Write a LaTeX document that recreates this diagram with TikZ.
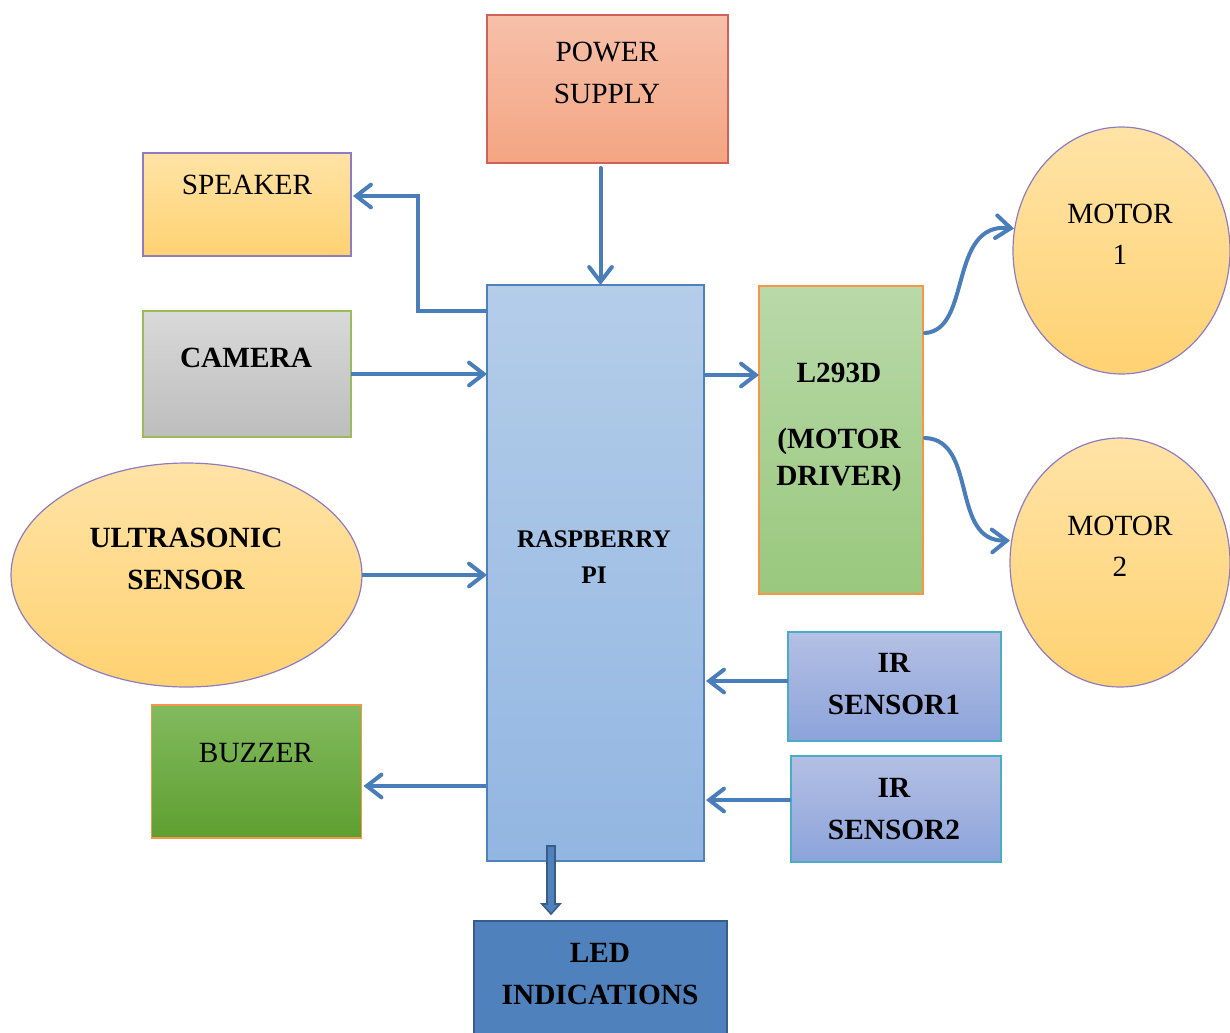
\documentclass[tikz,border=0pt]{standalone}
\usepackage{fontspec}
\setmainfont{Liberation Serif}
\usetikzlibrary{arrows.meta,shapes.geometric,calc}
\definecolor{arrc}{HTML}{4A7EBB}
\definecolor{psTop}{HTML}{F6C0AA}\definecolor{psBot}{HTML}{F4A582}\definecolor{psLine}{HTML}{D0605A}
\definecolor{yTop}{HTML}{FFE3A6}\definecolor{yBot}{HTML}{FFD272}\definecolor{purp}{HTML}{8E7CC3}
\definecolor{gTop}{HTML}{D9D9D9}\definecolor{gBot}{HTML}{BDBDBD}\definecolor{gLine}{HTML}{9BBB59}
\definecolor{bzTop}{HTML}{82BA5E}\definecolor{bzBot}{HTML}{5E9F30}\definecolor{orLine}{HTML}{F79646}
\definecolor{rpTop}{HTML}{B4CDE9}\definecolor{rpBot}{HTML}{92B6E2}\definecolor{rpLine}{HTML}{4F81BD}
\definecolor{lTop}{HTML}{B9D9A9}\definecolor{lBot}{HTML}{99C87D}
\definecolor{irTop}{HTML}{B4C0E4}\definecolor{irBot}{HTML}{8CA3DA}\definecolor{irLine}{HTML}{4BACC6}
\definecolor{ledFill}{HTML}{4F81BD}\definecolor{ledLine}{HTML}{385D8A}
\tikzset{
  box/.style={draw, line width=1.1pt, inner sep=0pt, outer sep=0pt},
  oval/.style={ellipse, draw, line width=0.9pt, inner sep=0pt, outer sep=0pt},
  arr/.style={draw=arrc, line width=3pt, line cap=round, line join=miter,
    -{Straight Barb[length=11pt,width=17pt,line cap=round]}},
  txt/.style={align=center, font=\fontsize{22}{31}\selectfont, inner sep=0pt},
  btxt/.style={align=center, font=\fontsize{22}{31}\selectfont\bfseries, inner sep=0pt},
}
\begin{document}
\begin{tikzpicture}[x=0.75pt,y=-0.75pt]
\useasboundingbox (0,0) rectangle (1230,1032);
% boxes
\node[box, draw=psLine, top color=psTop, bottom color=psBot, minimum width=241*0.75pt, minimum height=148*0.75pt] (ps) at (607.5,89) {};
\node[box, draw=purp, top color=yTop, bottom color=yBot, minimum width=208*0.75pt, minimum height=103*0.75pt] (spk) at (247,204.5) {};
\node[box, draw=gLine, top color=gTop, bottom color=gBot, minimum width=208*0.75pt, minimum height=126*0.75pt] (cam) at (247,374) {};
\node[oval, draw=purp, top color=yTop, bottom color=yBot, minimum width=351*0.75pt, minimum height=224*0.75pt] (us) at (186.5,575) {};
\node[box, draw=orLine, top color=bzTop, bottom color=bzBot, minimum width=210*0.75pt, minimum height=133*0.75pt] (bz) at (256.5,771.5) {};
\node[box, draw=rpLine, top color=rpTop, bottom color=rpBot, minimum width=217*0.75pt, minimum height=576*0.75pt] (rpi) at (595.5,573) {};
\node[box, draw=orLine, top color=lTop, bottom color=lBot, minimum width=164*0.75pt, minimum height=308*0.75pt] (l293) at (841,440) {};
\node[oval, draw=purp, top color=yTop, bottom color=yBot, minimum width=217*0.75pt, minimum height=247*0.75pt] (m1) at (1121.5,250.5) {};
\node[oval, draw=purp, top color=yTop, bottom color=yBot, minimum width=220*0.75pt, minimum height=249*0.75pt] (m2) at (1120,562.5) {};
\node[box, draw=irLine, top color=irTop, bottom color=irBot, minimum width=213*0.75pt, minimum height=109*0.75pt] (ir1) at (894.5,686.5) {};
\node[box, draw=irLine, top color=irTop, bottom color=irBot, minimum width=210*0.75pt, minimum height=106*0.75pt] (ir2) at (896,809) {};
\node[box, draw=ledLine, fill=ledFill, line width=2pt, minimum width=253*0.75pt, minimum height=130*0.75pt] (led) at (600.5,986) {};
% labels
\node[txt] (psT) at (607,73) {POWER\\SUPPLY};
\node[txt] (spkT) at (247,185) {SPEAKER};
\node[btxt] (camT) at (246,358) {CAMERA};
\node[btxt] (usT) at (186,559) {ULTRASONIC\\SENSOR};
\node[txt] (bzT) at (256,753) {BUZZER};
\node[align=center, font=\fontsize{19}{27}\selectfont\bfseries, inner sep=0pt] (rpiT) at (594,557) {RASPBERRY\\PI};
\node[btxt] (lT1) at (839,373) {L293D};
\node[align=center, font=\fontsize{22}{28}\selectfont\bfseries, inner sep=0pt] (lT2) at (839,460) {(MOTOR\\DRIVER)};
\node[txt] (m1T) at (1120,234) {MOTOR\\1};
\node[txt] (m2T) at (1120,546) {MOTOR\\2};
\node[btxt] (ir1T) at (894,684) {IR\\SENSOR1};
\node[btxt] (ir2T) at (894,809) {IR\\SENSOR2};
\node[btxt] (ledT) at (600,974) {LED\\INDICATIONS};
% connectors
\coordinate (psOut) at ($(ps.south)+(-7,5)$);
\draw[arr] (psOut) -- (psOut |- rpi.north);
\draw[arr, line cap=butt] ($(rpi.north west)+(0,26)$) -- ++(-69,0) |- ($(spk.north east)+(2,43)$);
\draw[arr, line cap=butt] (cam.east) -- (cam.east -| rpi.west);
\draw[arr, line cap=butt] (us.east) -- (us.east -| rpi.west);
\coordinate (bzY) at (0,786);
\draw[arr, line cap=butt] (rpi.west |- bzY) -- ($(bz.east |- bzY)+(2,0)$);
\coordinate (lY) at (0,375);
\draw[arr, line cap=butt] (rpi.east |- lY) -- (l293.west |- lY);
\coordinate (ir1Y) at (0,681);
\draw[arr, line cap=butt] (ir1.west |- ir1Y) -- ($(rpi.east |- ir1Y)+(2,0)$);
\coordinate (ir2Y) at (0,800);
\draw[arr, line cap=butt] (ir2.west |- ir2Y) -- ($(rpi.east |- ir2Y)+(2,0)$);
\draw[arr] ($(l293.north east)+(2,47)$) .. controls (972,330) and (948,222) .. ($(m1.west)+(1,-22)$);
\draw[arr] ($(l293.north east)+(2,152)$) .. controls (978,440) and (950,542) .. ($(m2.west)+(0,-22)$);
% LED block arrow
\coordinate (ledS) at (551,846);
\coordinate (ledE) at ($(led.north)+(-49.5,-7)$);
\draw[draw=ledLine, fill=ledFill, line width=1.2pt, line join=miter]
  ($(ledS)+(-4,0)$) -- ($(ledE)+(-4,-10)$) -- ($(ledE)+(-9,-10)$) -- (ledE)
  -- ($(ledE)+(9,-10)$) -- ($(ledE)+(4,-10)$) -- ($(ledS)+(4,0)$) -- cycle;
\end{tikzpicture}
\end{document}
